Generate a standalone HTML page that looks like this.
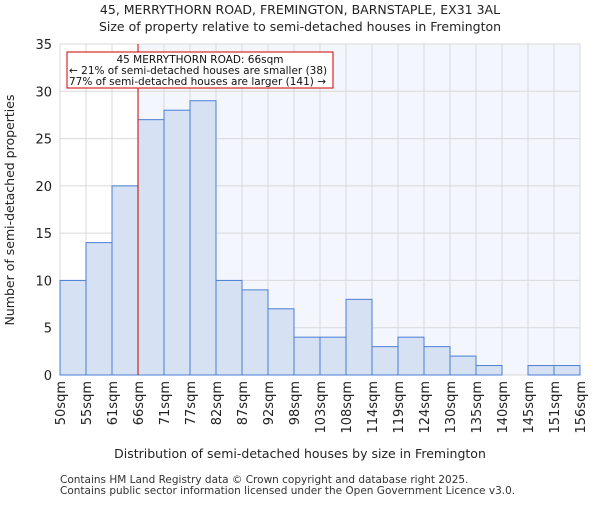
<!DOCTYPE html>
<html><head><meta charset="utf-8"><style>
body{margin:0;background:#fff;}
svg{font-family:"DejaVu Sans","Liberation Sans",sans-serif;}
</style></head><body>
<svg id="c" width="600" height="500" xmlns="http://www.w3.org/2000/svg">
<text x="300" y="14" text-anchor="middle" font-size="12.5" fill="#222">45, MERRYTHORN ROAD, FREMINGTON, BARNSTAPLE, EX31 3AL</text>
<text x="300" y="31" text-anchor="middle" font-size="12.5" fill="#222">Size of property relative to semi-detached houses in Fremington</text>
<g id="plot"></g>
<text x="300" y="458" text-anchor="middle" font-size="12.5" fill="#222">Distribution of semi-detached houses by size in Fremington</text>
<text transform="translate(14,210) rotate(-90)" text-anchor="middle" font-size="12.5" fill="#222">Number of semi-detached properties</text>
<text x="60" y="483" font-size="10.5" fill="#333">Contains HM Land Registry data © Crown copyright and database right 2025.</text>
<text x="60" y="494" font-size="10.5" fill="#333">Contains public sector information licensed under the Open Government Licence v3.0.</text>
</svg>
<script>
const categories=["50sqm","55sqm","61sqm","66sqm","71sqm","77sqm","82sqm","87sqm","92sqm","98sqm","103sqm","108sqm","114sqm","119sqm","124sqm","130sqm","135sqm","140sqm","145sqm","151sqm","156sqm"];
const counts=[10,14,20,27,28,29,10,9,7,4,4,8,3,4,3,2,1,0,1,1];
const yTicks=[0,5,10,15,20,25,30,35];
const markerIndex=3;
const annotationLines=["45 MERRYTHORN ROAD: 66sqm","← 21% of semi-detached houses are smaller (38)","77% of semi-detached houses are larger (141) →"];
const NS="http://www.w3.org/2000/svg";
const L=60,R=580,T=44,B=375,yMax=35;
const bw=(R-L)/counts.length;
const x=i=>L+i*bw, y=v=>B-(v/yMax)*(B-T);
const g=document.getElementById('plot');
function mk(t,a){const e=document.createElementNS(NS,t);for(const k in a)e.setAttribute(k,a[k]);g.appendChild(e);return e;}
let e;
e=mk('rect',{x:x(markerIndex),y:T,width:R-x(markerIndex),height:B-T,fill:'#f3f6fd'});


for(const t of yTicks){e=mk('line',{x1:L,x2:R,y1:y(t),y2:y(t),stroke:'#d9d9d9','stroke-width':1});


e=mk('text',{x:L-8,y:y(t)+5,'text-anchor':'end','font-size':13,fill:'#222'});e.textContent=t;

}
for(let i=0;i<categories.length;i++){e=mk('line',{x1:x(i),x2:x(i),y1:T,y2:B,stroke:'#d9d9d9','stroke-width':1});


e=mk('text',{transform:`translate(${x(i)+5},${B+6}) rotate(-90)`,'text-anchor':'end','font-size':13,fill:'#222'});e.textContent=categories[i];

}
counts.forEach((v,i)=>{if(v<=0)return;e=mk('rect',{x:x(i),y:y(v),width:bw,height:B-y(v),fill:'#d6e1f3',stroke:'#4a7fd4','stroke-width':1});

});
e=mk('line',{x1:x(markerIndex),x2:x(markerIndex),y1:T,y2:B,stroke:'#cc0000','stroke-width':1});


e=mk('rect',{x:67,y:52,width:266,height:36,fill:'#fff',stroke:'#cc0000','stroke-width':1});


annotationLines.forEach((s,i)=>{e=mk('text',{x:i==0?200:69,y:63+i*11,'text-anchor':i==0?'middle':'start','font-size':10.5,fill:'#111'});e.textContent=s;

});
</script>
</body></html>
